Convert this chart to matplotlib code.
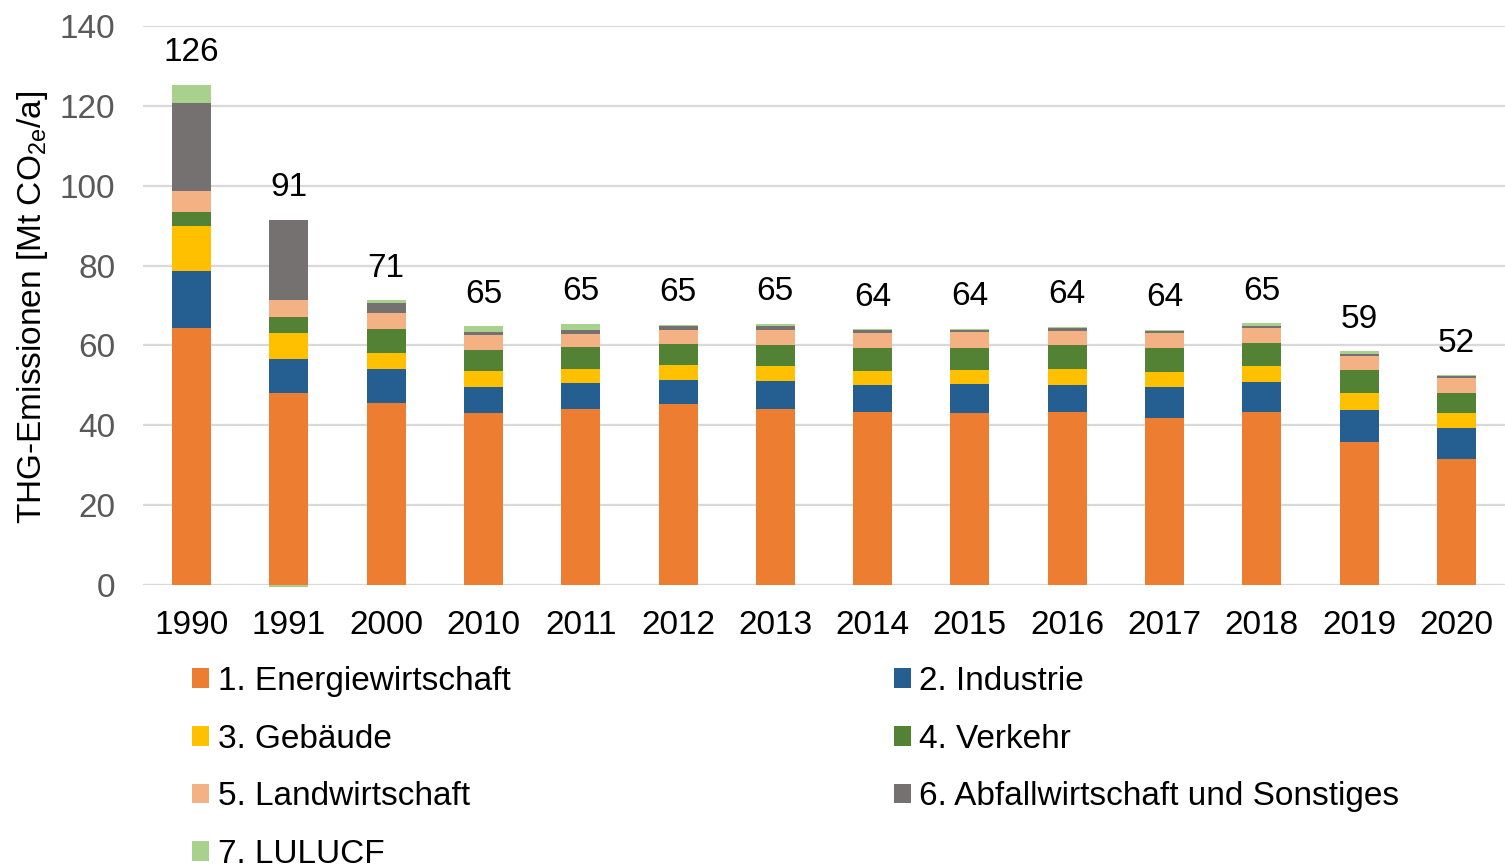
import matplotlib
matplotlib.use("Agg")
import matplotlib.pyplot as plt
import numpy as np

plt.rcParams['font.family'] = ['Liberation Sans', 'DejaVu Sans']

years = ["1990", "1991", "2000", "2010", "2011", "2012", "2013", "2014",
         "2015", "2016", "2017", "2018", "2019", "2020"]
series_names = ["1. Energiewirtschaft", "2. Industrie", "3. Gebäude", "4. Verkehr",
                "5. Landwirtschaft", "6. Abfallwirtschaft und Sonstiges", "7. LULUCF"]
energie = [64.4, 48.0, 45.7, 43.0, 44.0, 45.3, 44.0, 43.3, 43.0, 43.4, 41.9, 43.3, 35.9, 31.6]
industrie = [14.3, 8.6, 8.3, 6.7, 6.6, 6.1, 7.0, 6.8, 7.3, 6.7, 7.7, 7.5, 7.9, 7.6]
gebaeude = [11.3, 6.4, 4.2, 3.8, 3.5, 3.7, 3.8, 3.5, 3.5, 4.0, 3.7, 4.0, 4.2, 4.0]
verkehr = [3.4, 4.1, 6.0, 5.4, 5.4, 5.2, 5.4, 5.7, 5.5, 5.9, 6.0, 5.9, 5.9, 5.0]
landwirtschaft = [5.3, 4.3, 3.9, 3.6, 3.4, 3.6, 3.7, 3.7, 4.0, 3.7, 3.7, 3.6, 3.5, 3.6]
abfall = [22.0, 20.1, 2.5, 0.8, 1.0, 0.9, 0.9, 0.8, 0.6, 0.6, 0.7, 0.5, 0.5, 0.5]
lulucf = [4.6, -0.6, 0.7, 1.5, 1.5, 0.4, 0.6, 0.2, 0.3, 0.4, 0.2, 0.8, 0.7, 0.2]
total_labels = ["126", "91", "71", "65", "65", "65", "65", "64", "64", "64", "64", "65", "59", "52"]

colors = ["#ED7D31", "#255E91", "#FFC000", "#548235", "#F4B183", "#767171", "#A9D18E"]
series = [energie, industrie, gebaeude, verkehr, landwirtschaft, abfall, lulucf]

FS = 24

fig = plt.figure(figsize=(15.05, 8.66), dpi=100)
ax = fig.add_axes([143/1505, 1-585/866, 1362/1505, 559/866])

x = np.arange(len(years))
pos_bottom = np.zeros(len(years))
neg_bottom = np.zeros(len(years))
handles = []
for vals, col, name in zip(series, colors, series_names):
    v = np.array(vals, dtype=float)
    bottoms = np.where(v >= 0, pos_bottom, neg_bottom)
    h = ax.bar(x, v, bottom=bottoms, width=0.40, color=col, label=name,
               zorder=3, clip_on=False, linewidth=0)
    handles.append(h)
    pos_bottom = pos_bottom + np.where(v >= 0, v, 0)
    neg_bottom = neg_bottom + np.where(v < 0, v, 0)

for xi, top, lab in zip(x, pos_bottom, total_labels):
    ax.annotate(lab, xy=(xi, top), xytext=(0, 23), textcoords='offset points',
                ha='center', va='center', fontsize=FS, color='black')

ax.set_xlim(-0.5, 13.5)
ax.set_ylim(0, 140)
ax.set_yticks(np.arange(0, 141, 20))
ax.set_xticks(x)
ax.set_xticklabels(years)
ax.tick_params(axis='x', length=0, pad=18, labelsize=FS, labelcolor='black')
ax.tick_params(axis='y', length=0, pad=20, labelsize=FS, labelcolor='#595959')
ax.grid(axis='y', color='#D9D9D9', linewidth=1.6, zorder=0)
ax.set_axisbelow(True)
for s in ax.spines.values():
    s.set_visible(False)

ax.set_ylabel(r'THG-Emissionen [Mt CO$_{\mathregular{2e}}$/a]', fontsize=FS, color='black')
ax.yaxis.set_label_coords(-0.068, 0.497)

order = [0, 2, 4, 6, 1, 3, 5]
fig.legend([handles[i] for i in order], [series_names[i] for i in order],
           loc='upper left', bbox_to_anchor=(192/1505, 1-666/866),
           ncol=2, frameon=False, fontsize=FS, handlelength=0.52, handleheight=0.52,
           handletextpad=0.25, columnspacing=11.5, labelspacing=0.80,
           borderpad=0, borderaxespad=0)

fig.savefig("out.png", dpi=100)
